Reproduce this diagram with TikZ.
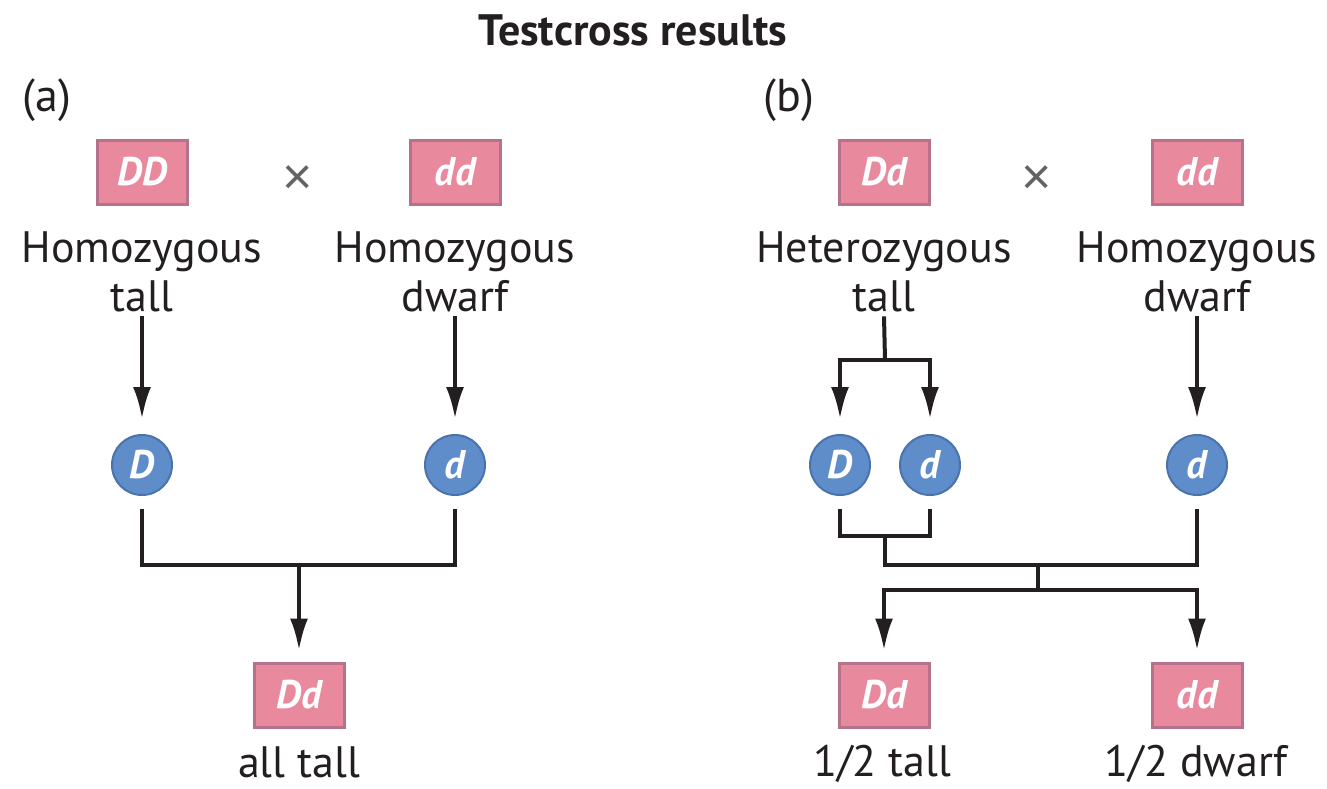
\documentclass[tikz,border=0pt]{standalone}
\usepackage{fontspec}
\setmainfont{PT Sans}
\newfontfamily\crossfont{Liberation Sans}
\usetikzlibrary{arrows.meta,positioning}
\definecolor{boxpink}{HTML}{E8899E}
\definecolor{boxedge}{HTML}{B5728A}
\definecolor{ballblue}{HTML}{5F8DC9}
\definecolor{balledge}{HTML}{4A73AE}
\definecolor{ink}{HTML}{231F20}

\begin{document}
\begin{tikzpicture}[x=1pt,y=-1pt,every node/.style={inner sep=0pt,text=ink}]
\tikzstyle{arrow}=[draw=ink,line width=4pt,-{Latex[length=32pt,width=18pt]}]
\tikzstyle{wire}=[draw=ink,line width=4pt]
\tikzstyle{geno}=[draw=boxedge,fill=boxpink,line width=3pt,minimum width=90pt,minimum height=64pt,text=white,font=\fontsize{40}{40}\selectfont\bfseries\itshape]
\tikzstyle{gamete}=[circle,draw=balledge,fill=ballblue,line width=2pt,minimum size=60pt,text=white,font=\fontsize{40}{40}\selectfont\bfseries\itshape]
\tikzstyle{lbl}=[align=center,font=\fontsize{44}{49}\selectfont]
\tikzstyle{cross}=[text=ink!70,font=\fontsize{52}{52}\crossfont]
\useasboundingbox (0,0) rectangle (1327,789);

\node[font=\fontsize{44}{44}\selectfont\bfseries](title) at (633,30){Testcross results};

% (a) homozygous tall x dwarf
\node[lbl,font=\fontsize{46}{46}\selectfont](capA) at (47,100){(a)};
\node[geno](pA1) at (142,172){DD};
\node[geno](pA2) at (455,172){dd};
\node[cross](xA) at (298,180){×};
\node[lbl](tA1) at (142,272){Homozygous\\tall};
\node[lbl](tA2) at (455,272){Homozygous\\dwarf};
\node[gamete](gA1) at (142,465){D};
\node[gamete](gA2) at (455,465){d};
\node[geno](oA) at (299,695){Dd};
\node[lbl](rA) at (299,762){all tall};

\coordinate (jA) at (299,565);
\path[arrow,shorten >=15pt]([yshift=-4pt]tA1.south)--(gA1.north);
\path[arrow,shorten >=15pt]([yshift=-4pt]tA2.south)--(gA2.north);
\path[wire]([yshift=-13pt]gA1.south)|-(jA)-|([yshift=-13pt]gA2.south);
\path[arrow,shorten >=11pt](jA)--(oA.north);

% (b) heterozygous tall x dwarf
\node[lbl,font=\fontsize{46}{46}\selectfont](capB) at (789,100){(b)};
\node[geno](pB1) at (884,172){Dd};
\node[geno](pB2) at (1197,172){dd};
\node[cross](xB) at (1037,180){×};
\node[lbl](tB1) at (884,272){Heterozygous\\tall};
\node[lbl](tB2) at (1197,272){Homozygous\\dwarf};
\node[gamete](gB1) at (840,465){D};
\node[gamete](gB2) at (930,465){d};
\node[gamete](gB3) at (1197,465){d};
\node[geno](oB1) at (884,695){Dd};
\node[geno](oB2) at (1197,695){dd};
\node[lbl](rB1) at (882,764){1/2 tall};
\node[lbl](rB2) at (1196,764){1/2 dwarf};

\coordinate (sB) at (885,360);
\coordinate (jB1) at (885,536);
\coordinate (jB2) at (1038,565);
\coordinate (jB3) at (1038,590);
\path[wire]([yshift=-4pt]tB1.south)--(sB);
\path[arrow,shorten >=15pt](sB)-|(gB1.north);
\path[arrow,shorten >=15pt](sB)-|(gB2.north);
\path[arrow,shorten >=15pt]([yshift=-4pt]tB2.south)--(gB3.north);
\path[wire]([yshift=-13pt]gB1.south)|-(jB1)-|([yshift=-13pt]gB2.south);
\path[wire](jB1)|-(jB2)-|([yshift=-13pt]gB3.south);
\path[wire](jB2)--(jB3);
\path[arrow,shorten >=11pt](jB3)-|(oB1.north);
\path[arrow,shorten >=11pt](jB3)-|(oB2.north);
\end{tikzpicture}
\end{document}
